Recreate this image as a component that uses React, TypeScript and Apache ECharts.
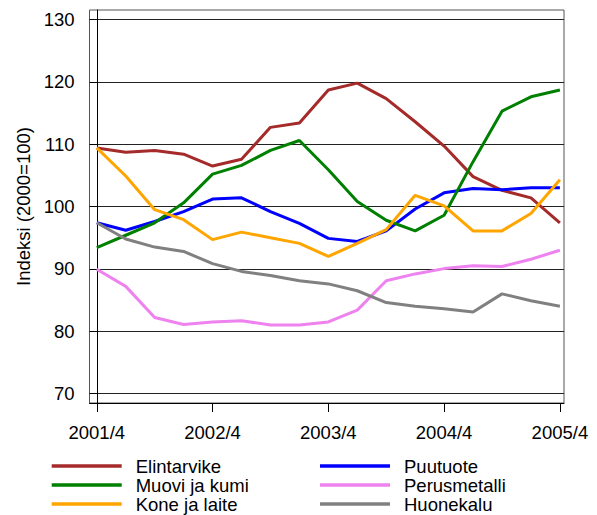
import React, { useEffect, useRef } from "react";
import * as echarts from "echarts";

const quarters = [
  "2001/4", "2002/1", "2002/2", "2002/3", "2002/4", "2003/1", "2003/2", "2003/3", "2003/4",
  "2004/1", "2004/2", "2004/3", "2004/4", "2005/1", "2005/2", "2005/3", "2005/4",
];
const xLabelIdx = [0, 4, 8, 12, 16];
const yTicks = [70, 80, 90, 100, 110, 120, 130];

const elintarvike = [109.4, 108.7, 109.0, 108.4, 106.5, 107.6, 112.7, 113.4, 118.7, 119.8, 117.3, 113.6, 109.7, 104.8, 102.6, 101.4, 97.4];
const puutuote = [97.4, 96.2, 97.6, 99.2, 101.2, 101.4, 99.2, 97.3, 94.9, 94.4, 96.1, 99.6, 102.2, 102.9, 102.7, 103.0, 103.0];
const muovi = [93.4, 95.4, 97.4, 100.6, 105.2, 106.6, 109.0, 110.6, 105.9, 100.8, 97.8, 96.1, 98.6, 107.2, 115.3, 117.6, 118.7];
const perusmetalli = [89.95, 87.2, 82.2, 81.1, 81.5, 81.7, 81.0, 81.0, 81.5, 83.4, 88.1, 89.2, 90.05, 90.5, 90.4, 91.55, 93.0];
const kone = [109.4, 104.9, 99.5, 97.9, 94.7, 95.9, 95.0, 94.1, 92.0, 94.1, 96.3, 101.8, 100.1, 96.1, 96.1, 98.9, 104.3];
const huonekalu = [97.4, 94.8, 93.5, 92.8, 90.85, 89.6, 88.95, 88.1, 87.6, 86.5, 84.6, 84.0, 83.6, 83.1, 86.0, 84.9, 84.0];

const seriesDefs = [
  { name: "Elintarvike", data: elintarvike, color: "#a52a2a" },
  { name: "Puutuote", data: puutuote, color: "#0000ff" },
  { name: "Muovi ja kumi", data: muovi, color: "#008000" },
  { name: "Perusmetalli", data: perusmetalli, color: "#ee82ee" },
  { name: "Kone ja laite", data: kone, color: "#ffa500" },
  { name: "Huonekalu", data: huonekalu, color: "#808080" },
];

const FONT = "'Liberation Sans', Arial, sans-serif";
const FS = 18.5;

export default function App() {
  const ref = useRef<HTMLDivElement>(null);
  useEffect(() => {
    if (!ref.current) return;
    const chart = echarts.init(ref.current, undefined, { renderer: "svg" });
    const legendCommon = {
      orient: "vertical" as const,
      top: 456.5,
      height: 57,
      padding: 0,
      itemWidth: 70,
      itemHeight: 3.5,
      itemGap: 0,
      icon: "rect",
      selectedMode: false,
      textStyle: {
        fontFamily: FONT,
        fontSize: FS,
        color: "#000",
        lineHeight: 19,
        padding: [0, 0, 0, 9],
      },
    };
    chart.setOption({
      animation: false,
      backgroundColor: "#fff",
      textStyle: { fontFamily: FONT },
      grid: {
        left: 89.5,
        right: 33,
        top: 10,
        bottom: 112,
        show: true,
        borderColor: "#555",
        borderWidth: 1,
        containLabel: false,
      },
      legend: [
        { ...legendCommon, left: 51.7, width: 230, data: ["Elintarvike", "Muovi ja kumi", "Kone ja laite"] },
        { ...legendCommon, left: 320, width: 230, data: ["Puutuote", "Perusmetalli", "Huonekalu"] },
      ],
      xAxis: {
        type: "value",
        min: -0.252,
        max: 16.142,
        axisLine: { show: true, onZero: false, lineStyle: { color: "#000", width: 1 } },
        axisTick: { show: true, length: 9, customValues: xLabelIdx, lineStyle: { color: "#000" } },
        axisLabel: {
          customValues: xLabelIdx,
          margin: 20,
          fontSize: FS,
          fontFamily: FONT,
          color: "#000",
          formatter: (v: number) => quarters[Math.round(v)] ?? "",
        },
        splitLine: { show: false },
      },
      yAxis: {
        type: "value",
        min: 68.5,
        max: 131.52,
        name: "Indeksi (2000=100)",
        nameLocation: "middle",
        nameRotate: 90,
        nameGap: 57,
        nameTextStyle: { fontSize: FS, fontFamily: FONT, color: "#000" },
        axisLine: { show: true, lineStyle: { color: "#000", width: 1 } },
        axisTick: { show: true, length: 7, customValues: yTicks, lineStyle: { color: "#000" } },
        axisLabel: {
          customValues: yTicks,
          margin: 15,
          fontSize: FS,
          fontFamily: FONT,
          color: "#000",
        },
        splitLine: { show: true, lineStyle: { color: "#222", width: 1 } },
      },
      series: seriesDefs.map((s) => ({
        name: s.name,
        type: "line",
        symbol: "none",
        color: s.color,
        lineStyle: { color: s.color, width: 3 },
        itemStyle: { color: s.color },
        data: s.data.map((v, i) => [i, v]),
      })),
    });
    return () => chart.dispose();
  }, []);
  return (
    <div
      ref={ref}
      style={{ position: "absolute", left: 0, top: 0, width: 597, height: 515 }}
    />
  );
}
